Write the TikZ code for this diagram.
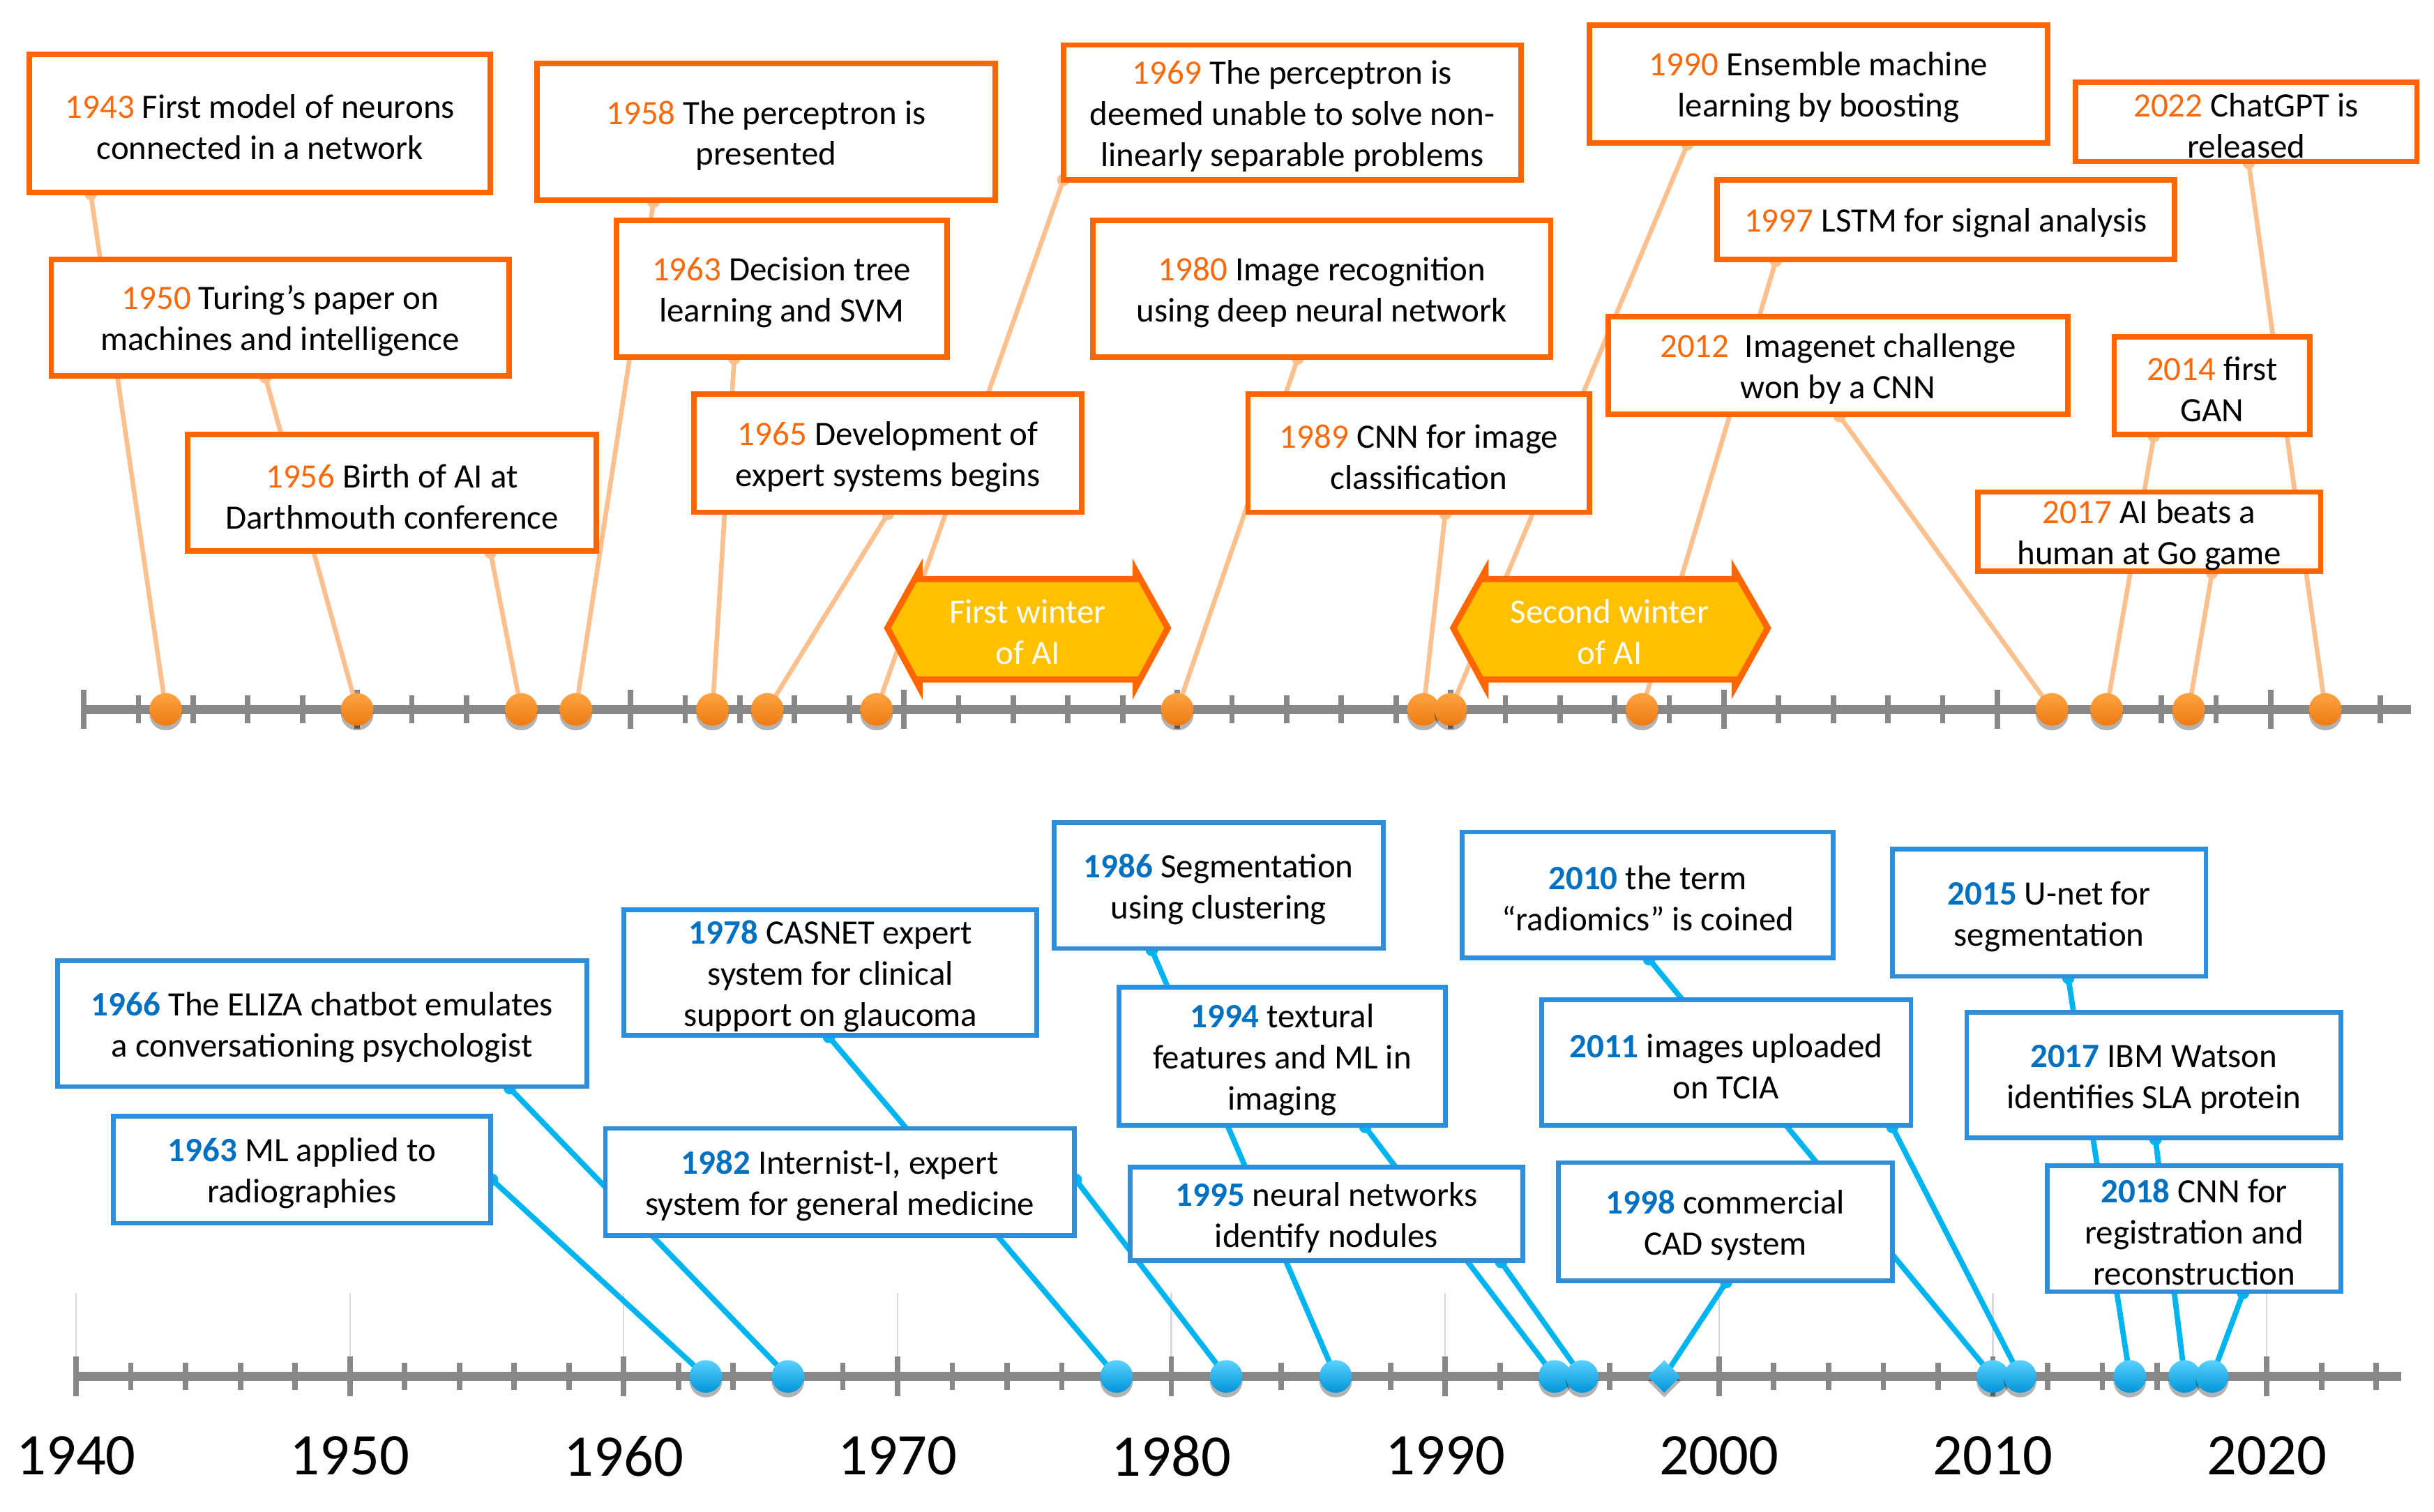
\documentclass[tikz,border=0pt]{standalone}
\usepackage{fontspec}
\setmainfont{Carlito}
\usetikzlibrary{shapes.geometric,shadows}
\definecolor{oBorder}{HTML}{FF6600}
\definecolor{oYear}{HTML}{FA6A0A}
\definecolor{oLink}{HTML}{FCC08E}
\definecolor{oDotT}{HTML}{FFA341}
\definecolor{oDotB}{HTML}{EE7A12}
\definecolor{bBorder}{HTML}{2D8FDB}
\definecolor{bYear}{HTML}{0070C0}
\definecolor{bLink}{HTML}{00B4F0}
\definecolor{bDotT}{HTML}{5AD2FF}
\definecolor{bDotB}{HTML}{0094D8}
\definecolor{axisGray}{HTML}{878787}
\definecolor{guideGray}{HTML}{D9D9D9}
\definecolor{winterFill}{HTML}{FFC000}
\newcommand\yrO[1]{\rule{0pt}{20pt}\textcolor{oYear}{#1}}
\newcommand\yrB[1]{\rule{0pt}{20pt}\textcolor{bYear}{\bfseries #1}}
\newcommand\mkbox[7]{\pgfmathsetmacro\myBw{#5-#3}\pgfmathsetmacro\myBh{#6-#4}\pgfmathsetmacro\myBx{(#3+#5)/2}\pgfmathsetmacro\myBy{(#4+#6)/2}\node[#1,minimum width=\myBw pt,minimum height=\myBh pt] (#2) at (\myBx,\myBy) {#7};}
\begin{document}
\begin{tikzpicture}[x=1pt,y=-1pt,
  obox/.style={draw=oBorder,line width=3.5pt,fill=white,align=center,inner sep=0pt,text=black,font=\fontsize{22}{26.5}\selectfont},
  bbox/.style={draw=bBorder,line width=3pt,fill=white,align=center,inner sep=0pt,text=black,font=\fontsize{22}{26.5}\selectfont},
  olink/.style={draw=oLink,line width=3pt},
  blink/.style={draw=bLink,line width=3.5pt},
  obump/.style={circle,fill=oLink,minimum size=8pt,inner sep=0pt},
  bbump/.style={circle,fill=bLink,minimum size=8pt,inner sep=0pt},
  odot/.style={circle,minimum size=21pt,inner sep=0pt,top color=oDotT,bottom color=oDotB,drop shadow={shadow xshift=0pt,shadow yshift=-3pt,opacity=0.3,fill=black}},
  bdot/.style={circle,minimum size=21pt,inner sep=0pt,top color=bDotT,bottom color=bDotB,drop shadow={shadow xshift=0pt,shadow yshift=-3pt,opacity=0.3,fill=black}},
  bdiam/.style={diamond,minimum size=21pt,inner sep=0pt,top color=bDotT,bottom color=bDotB,drop shadow={shadow xshift=0pt,shadow yshift=-3pt,opacity=0.3,fill=black}},
  axisline/.style={draw=axisGray,line width=6pt},
  tickmark/.style={draw=axisGray,line width=3.5pt},
  guide/.style={draw=guideGray,line width=1pt},
  winter/.style={draw=oBorder,fill=winterFill,line width=4pt,line join=miter},
  wtext/.style={text=white,align=center,font=\fontsize{22}{26.5}\selectfont},
  yearlab/.style={text=black,font=\fontsize{38}{40}\selectfont}]
\useasboundingbox (0,0) rectangle (1568,974);

% ---------------- top axis ----------------
\coordinate (tA) at (54,457);
\coordinate (tB) at (1553,457);
\draw[axisline] (tA) -- (tB);
\foreach \yr in {1940,1942,...,2024} {\draw[tickmark] ({54+(\yr-1940)*17.61},448) -- ++(0,18);}
\foreach \yr in {1940,1950,...,2020} {\draw[tickmark] ({54+(\yr-1940)*17.61},444.5) -- ++(0,25);}

% ---------------- bottom axis ----------------
\foreach \yr in {1940,1950,...,2020} {\draw[guide] ({49+(\yr-1940)*17.64},833) -- ++(0,50);}
\coordinate (bA) at (49,886.7);
\coordinate (bB) at (1547,886.7);
\draw[axisline] (bA) -- (bB);
\foreach \yr in {1940,1942,...,2024} {\draw[tickmark] ({49+(\yr-1940)*17.64},878) -- ++(0,17.5);}
\foreach \yr in {1940,1950,...,2020} {\draw[tickmark] ({49+(\yr-1940)*17.64},874) -- ++(0,25.5);}
\foreach \yr in {1940,1950,...,2020} {\node[yearlab] (L\yr) at ({49+(\yr-1940)*17.64},938) {\yr};}

% ---------------- top dots (positions) ----------------
\coordinate (p1943) at (106.8,457);
\coordinate (p1950) at (230.1,457);
\coordinate (p1956) at (335.8,457);
\coordinate (p1958) at (371,457);
\coordinate (p1963) at (459,457);
\coordinate (p1965) at (494.3,457);
\coordinate (p1969) at (564.7,457);
\coordinate (p1980) at (758.4,457);
\coordinate (p1989) at (917,457);
\coordinate (p1990) at (934.5,457);
\coordinate (p1997) at (1057.8,457);
\coordinate (p2012) at (1321.9,457);
\coordinate (p2014) at (1357.1,457);
\coordinate (p2017) at (1410,457);
\coordinate (p2022) at (1498,457);

% attachment points top
\coordinate (a1943) at (58.5,125);
\coordinate (a1950) at (171,243);
\coordinate (a1956) at (316,356);
\coordinate (a1958) at (421,130);
\coordinate (a1963) at (473,231);
\coordinate (a1965) at (572,331);
\coordinate (a1969) at (685,116);
\coordinate (a1980) at (836,231);
\coordinate (a1989) at (931,331);
\coordinate (a1990) at (1087,93);
\coordinate (a1997) at (1144,168);
\coordinate (a2012) at (1185,268);
\coordinate (a2014) at (1387.5,281);
\coordinate (a2017) at (1425,369);
\coordinate (a2022) at (1448.6,105);

\foreach \yr in {1943,1950,1956,1958,1963,1965,1969,1980,1989,1990,1997,2012,2014,2017,2022} {
  \draw[olink] (a\yr) -- (p\yr);
  \node[obump] (ab\yr) at (a\yr) {};
}

% ---------------- bottom dots (positions) ----------------
\coordinate (q1963) at (454.7,886.7);
\coordinate (q1966) at (507.6,886.7);
\coordinate (q1978) at (719.3,886.7);
\coordinate (q1982) at (789.9,886.7);
\coordinate (q1986) at (860.4,886.7);
\coordinate (q1994) at (1001.6,886.7);
\coordinate (q1995) at (1019.2,886.7);
\coordinate (q1998) at (1072.1,886.7);
\coordinate (q2010) at (1283.8,886.7);
\coordinate (q2011) at (1301.4,886.7);
\coordinate (q2015) at (1372,886.7);
\coordinate (q2017) at (1407.3,886.7);
\coordinate (q2018) at (1425,886.7);

\coordinate (e1963) at (317,760);
\coordinate (e1966) at (328.4,701);
\coordinate (e1978) at (534,668);
\coordinate (e1982) at (693,760);
\coordinate (e1986) at (742,612);
\coordinate (e1994) at (879.5,726);
\coordinate (e1995) at (967,813);
\coordinate (e1998) at (1112,826);
\coordinate (e2010) at (1062.4,618);
\coordinate (e2011) at (1219,726);
\coordinate (e2015) at (1332.4,630);
\coordinate (e2017) at (1388.6,734);
\coordinate (e2018) at (1445,833);

\foreach \yr in {1963,1966,1978,1982,1986,1994,1995,1998,2010,2011,2015,2017,2018} {
  \draw[blink] (e\yr) -- (q\yr);
  \node[bbump] (eb\yr) at (e\yr) {};
}

% ---------------- top boxes ----------------
\mkbox{obox}{b1943}{19}{35}{316}{124}{\yrO{1943} First model of neurons\\connected in a network}
\mkbox{obox}{b1950}{33}{167}{328}{242}{\yrO{1950} Turing’s paper on\\machines and intelligence}
\mkbox{obox}{b1956}{121}{280}{384}{355}{\yrO{1956} Birth of AI at\\Darthmouth conference}
\mkbox{obox}{b1958}{346}{41}{641}{129}{\yrO{1958} The perceptron is\\presented}
\mkbox{obox}{b1963}{397}{142}{610}{230}{\yrO{1963} Decision tree\\learning and SVM}
\mkbox{obox}{b1965}{447}{254}{697}{330}{\yrO{1965} Development of\\expert systems begins}
\mkbox{obox}{b1969}{685}{29}{980}{116}{\yrO{1969} The perceptron is\\deemed unable to solve non-\\linearly separable problems}
\mkbox{obox}{b1980}{704}{142}{999}{230}{\yrO{1980} Image recognition\\using deep neural network}
\mkbox{obox}{b1989}{804}{254}{1024}{330}{\yrO{1989} CNN for image\\classification}
\mkbox{obox}{b1990}{1024}{16}{1319}{92}{\yrO{1990} Ensemble machine\\learning by boosting}
\mkbox{obox}{b1997}{1106}{116}{1401}{167}{\yrO{1997} LSTM for signal analysis}
\mkbox{obox}{b2012}{1036}{204}{1332}{267}{\yrO{2012}\ \ Imagenet challenge\\won by a CNN}
\mkbox{obox}{b2022}{1337}{53}{1557}{104}{\yrO{2022} ChatGPT is\\released}
\mkbox{obox}{b2014}{1362}{217}{1488}{280}{\yrO{2014} first\\GAN}
\mkbox{obox}{b2017}{1274}{317}{1495}{368}{\yrO{2017} AI beats a\\human at Go game}

% ---------------- winters ----------------
\draw[winter] (571.7,404.6) -- (592.3,367.6) -- (592.3,373) -- (731.6,373) -- (731.6,367.6) -- (752.3,404.6) -- (731.6,442.8) -- (731.6,437.7) -- (592.3,437.7) -- (592.3,442.8) -- cycle;
\node[wtext] (w1) at (662,407) {First winter\\of AI};
\draw[winter] (936.2,404.6) -- (956.9,367.6) -- (956.9,373) -- (1117.5,373) -- (1117.5,367.6) -- (1138.8,404.6) -- (1117.5,442.8) -- (1117.5,437.7) -- (956.9,437.7) -- (956.9,442.8) -- cycle;
\node[wtext] (w2) at (1037,407) {Second winter\\of AI};

% ---------------- bottom boxes ----------------
\mkbox{bbox}{c1966}{37}{619}{378}{700}{\yrB{1966} The ELIZA chatbot emulates\\a conversationing psychologist}
\mkbox{bbox}{c1963}{73}{719}{316}{788}{\yrB{1963} ML applied to\\radiographies}
\mkbox{bbox}{c1978}{402}{586}{668}{667}{\yrB{1978} CASNET expert\\system for clinical\\support on glaucoma}
\mkbox{bbox}{c1982}{390}{727}{692}{796}{\yrB{1982} Internist-I, expert\\system for general medicine}
\mkbox{bbox}{c1986}{679}{530}{891}{611}{\yrB{1986} Segmentation\\using clustering}
\mkbox{bbox}{c1994}{721}{636}{931}{725}{\yrB{1994} textural\\features and ML in\\imaging}
\mkbox{bbox}{c1995}{728}{752}{981}{812}{\yrB{1995} neural networks\\identify nodules}
\mkbox{bbox}{c2010}{942}{536}{1181}{617}{\yrB{2010} the term\\“radiomics” is coined}
\mkbox{bbox}{c2011}{993}{644}{1231}{725}{\yrB{2011} images uploaded\\on TCIA}
\mkbox{bbox}{c1998}{1004}{749}{1219}{825}{\yrB{1998} commercial\\CAD system}
\mkbox{bbox}{c2015}{1219}{547}{1421}{629}{\yrB{2015} U-net for\\segmentation}
\mkbox{bbox}{c2017}{1267}{652}{1508}{733}{\yrB{2017} IBM Watson\\identifies SLA protein}
\mkbox{bbox}{c2018}{1319}{751}{1508}{832}{\yrB{2018} CNN for\\registration and\\reconstruction}

% ---------------- dots ----------------
\foreach \yr in {1943,1950,1956,1958,1963,1965,1969,1980,1989,1990,1997,2012,2014,2017,2022} {
  \node[odot] (d\yr) at (p\yr) {};
}
\foreach \yr in {1963,1966,1978,1982,1986,1994,1995,2010,2011,2015,2017,2018} {
  \node[bdot] (g\yr) at (q\yr) {};
}
\node[bdiam] (g1998) at (q1998) {};
\end{tikzpicture}
\end{document}
